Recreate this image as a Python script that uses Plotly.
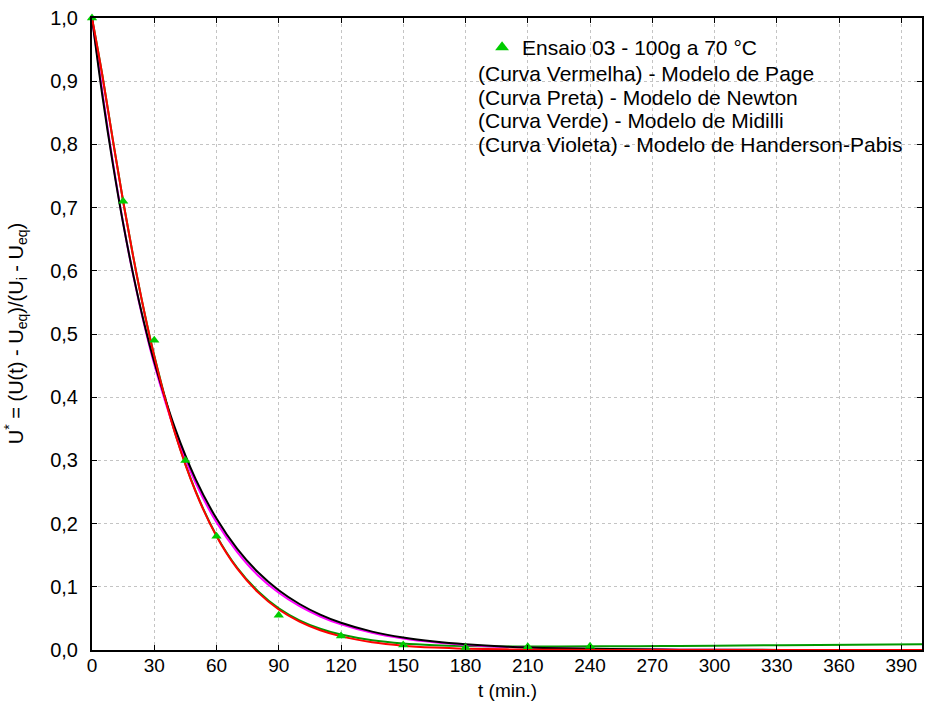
import plotly.graph_objects as go

# Experimental data (Ensaio 03 - 100g a 70 °C)
t_data = [0, 15, 30, 45, 60, 90, 120, 150, 180, 210, 240]
u_data = [1.0, 0.71, 0.49, 0.30, 0.18, 0.055, 0.022, 0.008, 0.004, 0.005, 0.006]

# Model curves
t_curve = [0, 5, 10, 15, 20, 25, 30, 40, 50, 60, 70, 80, 90, 100, 110, 120,
           135, 150, 165, 180, 200, 225, 250, 275, 300, 350, 400]
page = [1.0, 0.909, 0.808, 0.710, 0.620, 0.538, 0.465, 0.343, 0.250, 0.180, 0.1286,
        0.0912, 0.0641, 0.0449, 0.0312, 0.0216, 0.0123, 0.0069, 0.0039, 0.0021,
        0.0010, 0.0004, 0.0001, 0.0, 0.0, 0.0, 0.0]
newton = [1.0, 0.877, 0.770, 0.675, 0.592, 0.519, 0.456, 0.351, 0.270, 0.208, 0.160,
          0.123, 0.0946, 0.0728, 0.0560, 0.0431, 0.0291, 0.0196, 0.0133, 0.0090,
          0.0053, 0.0028, 0.0014, 0.0007, 0.0004, 0.0001, 0.0]
midilli = [1.0, 0.909, 0.808, 0.710, 0.620, 0.538, 0.466, 0.344, 0.251, 0.181, 0.130,
           0.093, 0.066, 0.047, 0.0337, 0.0244, 0.0154, 0.0104, 0.0077, 0.0062,
           0.0056, 0.0056, 0.0059, 0.0063, 0.0069, 0.0081, 0.0092]
henderson = [1.0, 0.883, 0.773, 0.676, 0.591, 0.517, 0.452, 0.346, 0.264, 0.202, 0.155,
             0.118, 0.0906, 0.0693, 0.0530, 0.0405, 0.0271, 0.0181, 0.0121, 0.0081,
             0.0047, 0.0024, 0.0012, 0.0006, 0.0003, 0.0001, 0.0]

x_ticks = list(range(0, 400, 30))
y_ticks = [i / 10 for i in range(11)]

x_title = "t (min.)"
y_title = "U<sup>*</sup> = (U(t) - U<sub>eq</sub>)/(U<sub>i</sub> - U<sub>eq</sub>)"
legend_title = "Ensaio 03 - 100g a 70 °C"
legend_lines = [
    "(Curva Vermelha) - Modelo de Page",
    "(Curva Preta) - Modelo de Newton",
    "(Curva Verde) - Modelo de Midilli",
    "(Curva Violeta) - Modelo de Handerson-Pabis",
]

FONT = "Liberation Sans, Arial, sans-serif"
FS = 21

fig = go.Figure()
fig.add_trace(go.Scatter(x=t_curve, y=midilli, mode="lines", line=dict(color="#009900", width=2, shape="spline"), showlegend=False))
fig.add_trace(go.Scatter(x=t_curve, y=henderson, mode="lines", line=dict(color="#ff00ff", width=2, shape="spline"), showlegend=False))
fig.add_trace(go.Scatter(x=t_curve, y=newton, mode="lines", line=dict(color="#000000", width=2, shape="spline"), showlegend=False))
fig.add_trace(go.Scatter(x=t_curve, y=page, mode="lines", line=dict(color="#ff0000", width=2, shape="spline"), showlegend=False))
fig.add_trace(go.Scatter(x=t_data, y=u_data, mode="markers", name=legend_title,
                         marker=dict(symbol="triangle-up", size=9, color="#00cc00"),
                         cliponaxis=False))

L, R, T, B = 92, 3, 18, 52
W, H = 927, 702
pw = W - L - R
ph = H - T - B

def px_x(x):
    return (x - L) / pw

def px_y(y):
    return (H - B - y) / ph

annotations = []
line_y = [73, 97, 121, 145]
for txt, yy in zip(legend_lines, line_y):
    annotations.append(dict(x=px_x(477), y=px_y(yy), xref="paper", yref="paper",
                            text=txt, showarrow=False, xanchor="left", yanchor="middle",
                            font=dict(family=FONT, size=FS, color="black")))
annotations.append(dict(x=px_x(509), y=px_y(691), xref="paper", yref="paper",
                        text=x_title, showarrow=False, xanchor="center", yanchor="middle",
                        font=dict(family=FONT, size=19, color="black")))
annotations.append(dict(x=px_x(15), y=0.5, xref="paper", yref="paper",
                        text=y_title, showarrow=False, xanchor="center", yanchor="middle",
                        textangle=-90,
                        font=dict(family=FONT, size=20, color="black")))

fig.update_layout(
    width=W, height=H,
    margin=dict(l=L, r=R, t=T, b=B),
    paper_bgcolor="white", plot_bgcolor="white",
    separators=",.",
    font=dict(family=FONT, size=FS, color="black"),
    legend=dict(x=px_x(483), y=px_y(27), xanchor="left", yanchor="top",
                bgcolor="rgba(0,0,0,0)", font=dict(family=FONT, size=FS),
                itemsizing="constant"),
    annotations=annotations,
    xaxis=dict(range=[0, 400], tickvals=x_ticks, showgrid=True, gridcolor="#c4c4c4",
               griddash="3px,3px", gridwidth=1, showline=True, linecolor="black", linewidth=2,
               mirror="ticks", ticks="inside", ticklen=5, tickcolor="black", tickwidth=1,
               zeroline=False, tickfont=dict(size=19), ticklabelstandoff=-3,
               ticklabeloverflow="allow"),
    yaxis=dict(range=[0, 1.0], tickvals=y_ticks, tickformat=".1f", showgrid=True,
               gridcolor="#c4c4c4", griddash="3px,3px", gridwidth=1, showline=True,
               linecolor="black", linewidth=2, mirror="ticks", ticks="inside", ticklen=5,
               tickcolor="black", tickwidth=1, zeroline=False,
               tickfont=dict(size=20), ticklabelstandoff=8,
               ticklabeloverflow="allow"),
)

fig.write_html("out.html", config={"displayModeBar": False},
               post_script="document.body.style.margin='0';")
